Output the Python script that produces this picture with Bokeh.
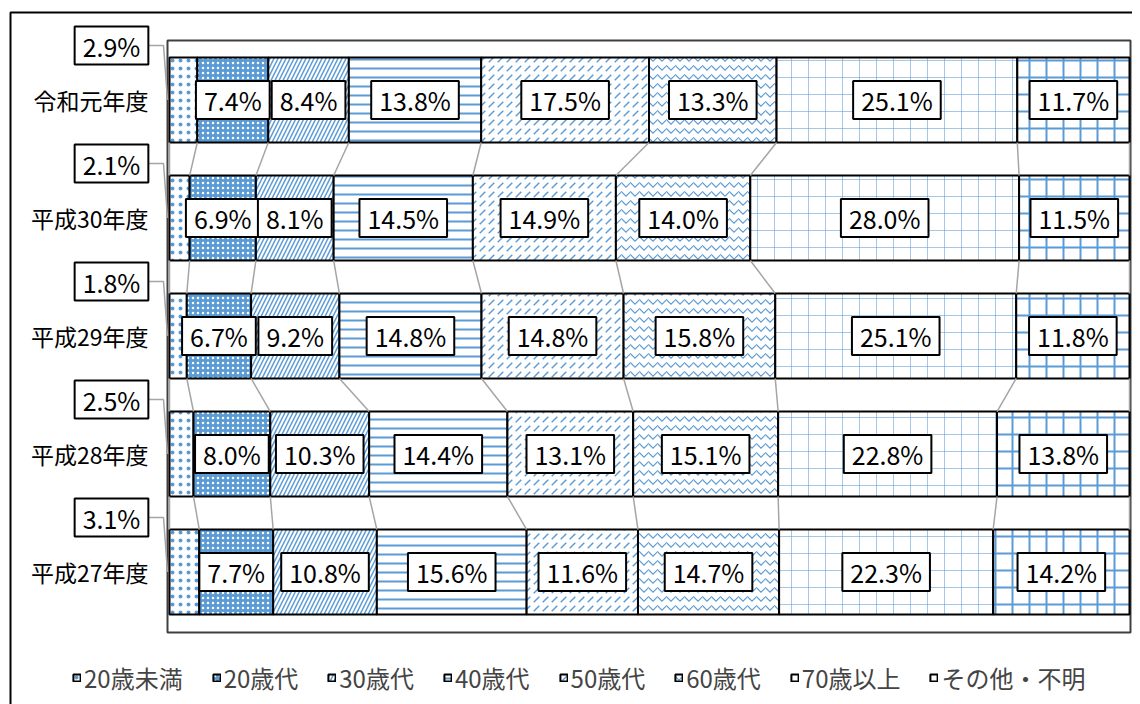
from bokeh.plotting import figure
from bokeh.models import ColumnDataSource, Legend, LegendItem, Range1d
from bokeh.core.properties import value
from bokeh.embed import file_html
from bokeh.resources import INLINE

# ---- data ----
years = ["令和元年度", "平成30年度", "平成29年度", "平成28年度", "平成27年度"]
groups = ["20歳未満", "20歳代", "30歳代", "40歳代", "50歳代", "60歳代", "70歳以上", "その他・不明"]
under20 = [2.9, 2.1, 1.8, 2.5, 3.1]
age20s = [7.4, 6.9, 6.7, 8.0, 7.7]
age30s = [8.4, 8.1, 9.2, 10.3, 10.8]
age40s = [13.8, 14.5, 14.8, 14.4, 15.6]
age50s = [17.5, 14.9, 14.8, 13.1, 11.6]
age60s = [13.3, 14.0, 15.8, 15.1, 14.7]
age70plus = [25.1, 28.0, 25.1, 22.8, 22.3]
other = [11.7, 11.5, 11.8, 13.8, 14.2]
series = [under20, age20s, age30s, age40s, age50s, age60s, age70plus, other]

FONT = "Noto Sans CJK JP"
BLUE = "#5B9BD5"
GRAY = "#A5A5A5"
N = len(years)
ypos = [N - 1 - i for i in range(N)]   # top row first
BAR_H = 0.72

# ---- layout geometry (canvas pixels) ----
W, H = 1132, 704
X0_PX, UNIT_X = 169, 960        # canvas x of 0 %, pixels for 100 %
ROW0_PX, ROW_PX = 99.5, 118     # canvas y of the top row centre, row pitch


def dx(px):
    return px / UNIT_X


def dy(px):
    return px / ROW_PX


def cx(px):   # canvas x -> data x
    return (px - X0_PX) / UNIT_X


def cy(px):   # canvas y (from top) -> data y
    return (N - 1) - (px - ROW0_PX) / ROW_PX


styles = [
    dict(fill_color="white", hatch_pattern=".", hatch_scale=8, hatch_weight=1, hatch_color=BLUE),
    dict(fill_color=BLUE, hatch_pattern=".", hatch_scale=5, hatch_weight=1.5, hatch_color="white"),
    dict(fill_color="white", hatch_pattern="/", hatch_scale=8, hatch_weight=1.5, hatch_color=BLUE),
    dict(fill_color="white", hatch_pattern="-", hatch_scale=9, hatch_weight=2, hatch_color=BLUE),
    dict(fill_color="white", hatch_pattern=",", hatch_scale=9, hatch_weight=1.5, hatch_color=BLUE),
    dict(fill_color="white", hatch_pattern="v", hatch_scale=9, hatch_weight=1.2, hatch_color=BLUE),
    dict(fill_color="white", hatch_pattern="+", hatch_scale=17, hatch_weight=1, hatch_color=BLUE, hatch_alpha=0.55),
    dict(fill_color="white", hatch_pattern="+", hatch_scale=17, hatch_weight=2, hatch_color=BLUE),
]

totals = [sum(s[r] for s in series) for r in range(N)]

p = figure(width=W, height=H, output_backend="svg", toolbar_location=None,
           x_range=Range1d(cx(0), cx(W)), y_range=Range1d(cy(H), cy(0)),
           x_axis_location=None, y_axis_location=None,
           min_border=0, min_border_left=0, min_border_right=0,
           min_border_top=0, min_border_bottom=0)
p.xgrid.visible = False
p.ygrid.visible = False
p.outline_line_color = None
p.background_fill_color = "white"
p.border_fill_color = "white"

# outer chart frame (left/top edges inside the page, right/bottom beyond it)
p.quad(left=[cx(10)], right=[cx(W + 40)], top=[cy(12)], bottom=[cy(H + 40)],
       fill_color=None, line_color="black", line_width=2)

# plot area box
p.quad(left=[cx(167)], right=[cx(1130)], top=[cy(40)], bottom=[cy(632)],
       fill_color="white", line_color="#404040", line_width=2)

cum = [[0.0] * N]
renderers = []
for k, s in enumerate(series):
    left = cum[-1]
    right = [left[r] + s[r] / totals[r] for r in range(N)]
    cum.append(right)
    src = ColumnDataSource(dict(y=ypos, left=left, right=right,
                                xc=[(a + b) / 2 for a, b in zip(left, right)],
                                label=[f"{v:.1f}%" for v in s]))
    r = p.hbar(y="y", left="left", right="right", height=BAR_H, source=src,
               line_color="black", line_width=2, **styles[k])
    renderers.append((r, src))

# series lines between bars
sx0, sy0, sx1, sy1 = [], [], [], []
for b in cum:
    for r in range(N - 1):
        sx0.append(b[r]); sy0.append(ypos[r] - BAR_H / 2)
        sx1.append(b[r + 1]); sy1.append(ypos[r + 1] + BAR_H / 2)
p.segment(x0=sx0, y0=sy0, x1=sx1, y1=sy1, line_color=GRAY, line_width=1.5)

label_style = dict(text_align="center", text_baseline="middle", text_font=value(FONT),
                   text_font_size="25px", text_color="black", background_fill_color="white",
                   border_line_color="black", border_line_width=2, padding=dict(x=8, y=1))

# data labels inside segments
for k, (r, src) in enumerate(renderers):
    if k == 0:
        continue
    p.text(x="xc", y="y", text="label", source=src, **label_style)

# outside labels for 20歳未満 with leader lines
ly = [y + dy(54.5) for y in ypos]
lx = [cx(111)] * N
p.multi_line(xs=[[cx(147), cx(163), 0.0 - dx(2)] for _ in ypos],
             ys=[[a, a, y] for a, y in zip(ly, ypos)], line_color=GRAY, line_width=1.5)
p.text(x=lx, y=ly, text=[f"{v:.1f}%" for v in under20], **label_style)

# category labels
p.text(x=[cx(148)] * N, y=ypos, text=years, text_align="right", text_baseline="middle",
       text_font=value(FONT), text_font_size="23px", text_color="black")

legend = Legend(items=[LegendItem(label=groups[k], renderers=[renderers[k][0]]) for k in range(len(groups))],
                orientation="horizontal", location=(72, 9), border_line_color=None,
                background_fill_alpha=0, label_text_font=FONT, label_text_font_size="24px",
                glyph_width=9, glyph_height=9, label_standoff=3, spacing=29, padding=0, margin=0)
p.add_layout(legend, "center")

open("out.html", "w").write(file_html(p, INLINE))
